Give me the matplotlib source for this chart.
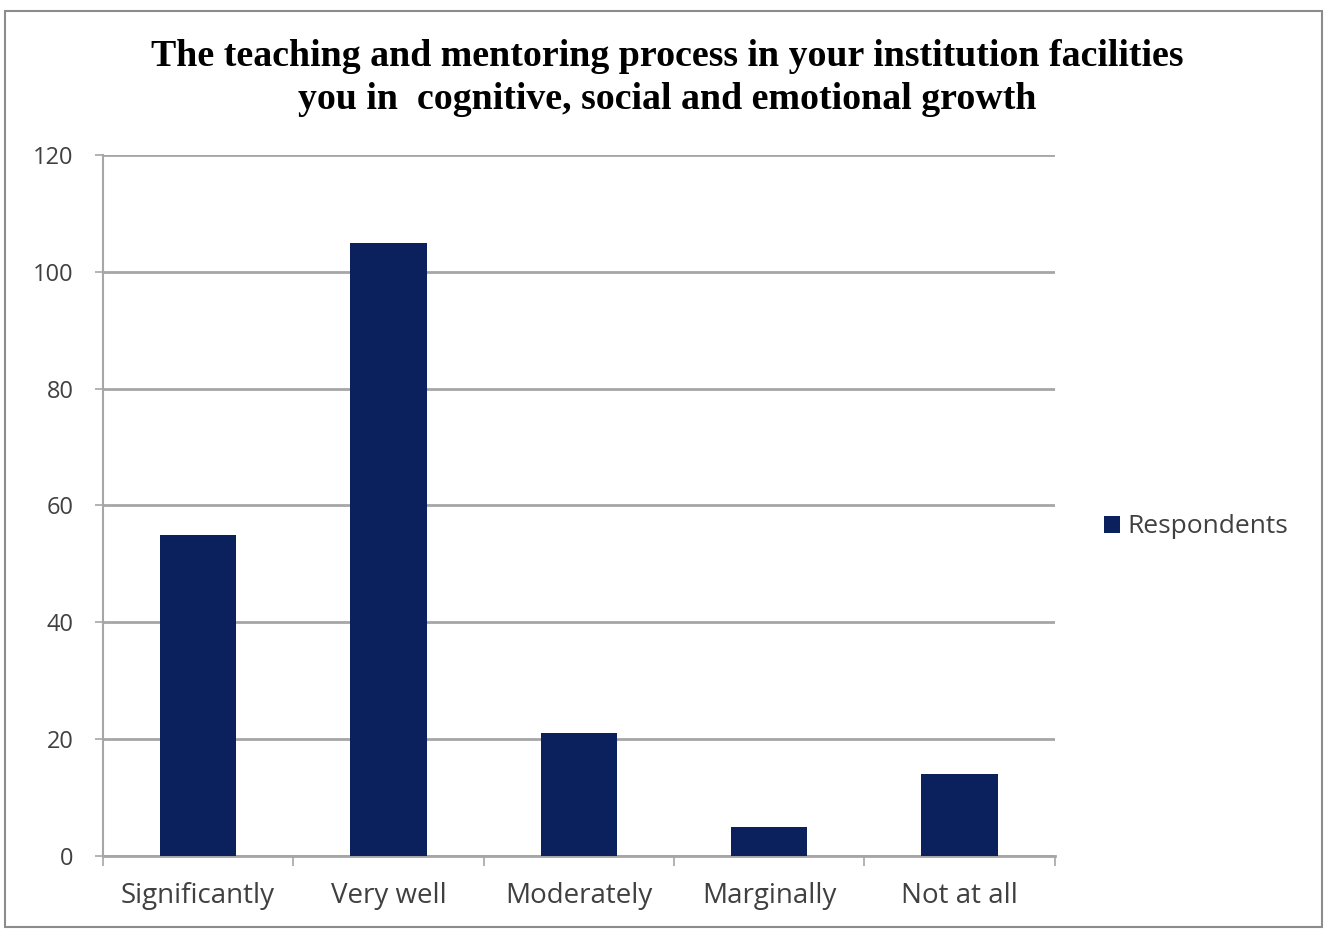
import matplotlib
matplotlib.use("Agg")
import matplotlib.pyplot as plt
from matplotlib.patches import Rectangle, Patch

categories = ["Significantly", "Very well", "Moderately", "Marginally", "Not at all"]
respondents = [55, 105, 21, 5, 14]
yticks = [0, 20, 40, 60, 80, 100, 120]

bar_color = "#0b215e"
grid_color = "#a6a6a6"
text_color = "#404040"

fig = plt.figure(figsize=(13.3, 9.31), dpi=100)
ax = fig.add_axes([0.0774, 0.0806, 0.7156, 0.7529])

x = list(range(len(categories)))
ax.bar(x, respondents, width=0.4, color=bar_color, zorder=3, label="Respondents")
ax.set_xlim(-0.5, len(categories) - 0.5)
ax.set_ylim(0, 120)
ax.set_yticks(yticks)
ax.set_yticklabels([str(v) for v in yticks], fontsize=17, color=text_color, family="Open Sans")
ax.set_xticks(x)
ax.set_xticklabels(categories, fontsize=20, color=text_color, family="Open Sans")
ax.tick_params(axis="x", length=0, pad=19)
ax.tick_params(axis="y", length=6, width=1.2, color=grid_color, pad=15)
# minor ticks at category boundaries
ax.set_xticks([i - 0.5 for i in range(len(categories) + 1)], minor=True)
ax.tick_params(axis="x", which="minor", length=7, width=1.2, color=grid_color, direction="out")
ax.grid(axis="y", color=grid_color, linewidth=2, zorder=0)
for s in ["top", "right"]:
    ax.spines[s].set_visible(False)
ax.spines["left"].set_color(grid_color)
ax.spines["left"].set_linewidth(1.5)
ax.spines["bottom"].set_color(grid_color)
ax.spines["bottom"].set_linewidth(2)

fig.text(0.5015, 0.939, "The teaching and mentoring process in your institution facilities",
         ha="center", va="center", fontsize=27.3, fontweight="bold", family="Liberation Serif", color="#000000")
fig.text(0.5015, 0.893, "you in  cognitive, social and emotional growth",
         ha="center", va="center", fontsize=27.3, fontweight="bold", family="Liberation Serif", color="#000000")

leg = fig.legend(handles=[Patch(facecolor=bar_color, label="Respondents")],
                 loc="center left", bbox_to_anchor=(0.812, 0.434), frameon=False,
                 prop={"family": "Open Sans", "size": 19}, handlelength=0.6, handleheight=0.6,
                 handletextpad=0.3)
for t in leg.get_texts():
    t.set_color(text_color)

fig.add_artist(Rectangle((0.004, 0.004), 0.99, 0.984, transform=fig.transFigure,
                         fill=False, edgecolor="#8c8c8c", linewidth=1.5))

fig.savefig("out.png", dpi=100)
